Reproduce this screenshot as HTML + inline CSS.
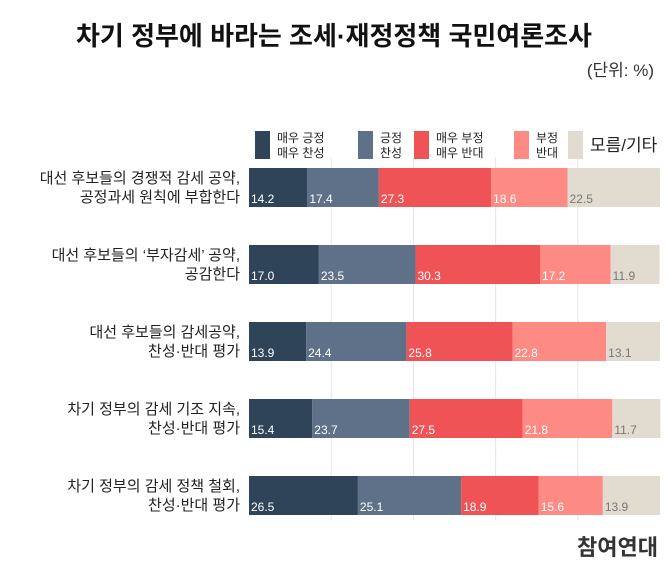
<!DOCTYPE html>
<html><head><meta charset="utf-8">
<style>
body{margin:0;background:#fff;font-family:"Liberation Sans","Noto Sans CJK KR",sans-serif;}
#wrap{position:relative;width:668px;height:567px;overflow:hidden;}
.title{position:absolute;left:0;width:668px;top:16px;text-align:center;font-size:26px;font-weight:bold;color:#111;}
.unit{position:absolute;right:14px;top:56px;font-size:17px;color:#333;}
.src{position:absolute;right:10px;top:530px;font-size:22px;font-weight:bold;color:#333;}
</style></head><body>
<div id="wrap">
<div class="title">차기 정부에 바라는 조세·재정정책 국민여론조사</div>
<div class="unit">(단위: %)</div>
<svg id="svg" width="668" height="567" style="position:absolute;left:0;top:0"></svg>
<div class="src">참여연대</div>
</div>
<script>
const categories=[["대선 후보들의 경쟁적 감세 공약,","공정과세 원칙에 부합한다"],["대선 후보들의 ‘부자감세’ 공약,","공감한다"],["대선 후보들의 감세공약,","찬성·반대 평가"],["차기 정부의 감세 기조 지속,","찬성·반대 평가"],["차기 정부의 감세 정책 철회,","찬성·반대 평가"]];
const seriesNames=[["매우 긍정","매우 찬성"],["긍정","찬성"],["매우 부정","매우 반대"],["부정","반대"],["모름/기타"]];
const s1=[14.2,17.0,13.9,15.4,26.5];
const s2=[17.4,23.5,24.4,23.7,25.1];
const s3=[27.3,30.3,25.8,27.5,18.9];
const s4=[18.6,17.2,22.8,21.8,15.6];
const s5=[22.5,11.9,13.1,11.7,13.9];
const gridTicks=[20,40,60,80];
const series=[s1,s2,s3,s4,s5];
const colors=["#2f4359","#5e7189","#ef5355","#fe8a84","#e2dbd0"];
const textColors=["#fff","#fff","#fff","#fff","#777"];
const NS="http://www.w3.org/2000/svg";
const svg=document.getElementById('svg');
const X0=249,W=411,Y0=168,PITCH=77,BH=39;
const xs=v=>X0+v/100*W;
const ys=i=>Y0+i*PITCH;
function mk(t,a){const e=document.createElementNS(NS,t);for(const k in a)e.setAttribute(k,a[k]);svg.appendChild(e);return e;}
gridTicks.forEach(t=>{const l=mk('line',{x1:xs(t),x2:xs(t),y1:158,y2:520,stroke:'#e6e6e6','stroke-width':1});

});
// legend
const legX=[255,358,414,514,568];
seriesNames.forEach((n,k)=>{
 const r=mk('rect',{x:legX[k],y:131,width:15,height:28,fill:colors[k]});
 
 
 n.forEach((ln,j)=>{
  const big=n.length==1;
  const t=mk('text',{x:legX[k]+22,y:big?151:(142+j*15),'font-size':big?17:12,fill:'#222'});
  t.textContent=ln;
  
  
 });
});
categories.forEach((c,i)=>{
 c.forEach((ln,j)=>{
  const t=mk('text',{x:240,y:ys(i)+15+j*19,'font-size':15,fill:'#222','text-anchor':'end'});
  t.textContent=ln;
  
  
 });
 let cum=0;
 series.forEach((s,k)=>{
  const v=s[i];
  const r=mk('rect',{x:xs(cum),y:ys(i),width:xs(cum+v)-xs(cum),height:BH,fill:colors[k]});
  
  
  const t=mk('text',{x:xs(cum)+2,y:ys(i)+35,'font-size':12,fill:textColors[k]});
  t.textContent=v.toFixed(1);
  
  
  cum+=v;
 });
});
</script>
</body></html>
